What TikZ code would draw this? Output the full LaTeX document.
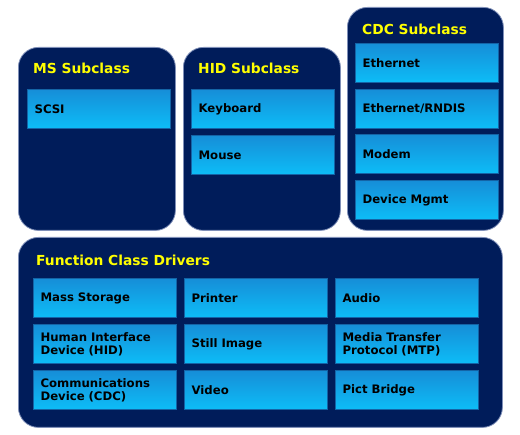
\documentclass[tikz,border=0pt]{standalone}
\usepackage{fontspec}
\setmainfont{DejaVu Sans}
\definecolor{navy}{HTML}{001C5A}
\definecolor{panelrim}{HTML}{7F8FB8}
\definecolor{boxtop}{HTML}{168ED8}
\definecolor{boxbot}{HTML}{0DBDF7}
\definecolor{boxrim}{HTML}{1464A6}
\definecolor{ttl}{HTML}{FFFF00}
\tikzset{
  panel/.style={draw=panelrim, line width=0.8pt, fill=navy, rounded corners=20pt, anchor=north west, inner sep=0pt},
  ttlnode/.style={anchor=west, text=ttl, font=\bfseries\fontsize{13.8}{16}\selectfont, inner sep=0pt},
  boxnode/.style={draw=boxrim, line width=1.2pt, top color=boxtop, bottom color=boxbot, anchor=north west,
     minimum width=143pt, minimum height=39pt, text width=129pt, inner xsep=7pt, inner ysep=0pt, align=left,
     font=\bfseries\fontsize{11.7}{13.5}\selectfont, text=black}
}
\begin{document}
\begin{tikzpicture}[x=1pt,y=-1pt]
\useasboundingbox (0,0) rectangle (520,435);
% panels
\node[panel, minimum width=157pt, minimum height=183pt] (ms) at (18,47) {};
\node[panel, minimum width=157pt, minimum height=183pt] (hid) at (183,47) {};
\node[panel, minimum width=156pt, minimum height=223pt] (cdc) at (347,7) {};
\node[panel, minimum width=484pt, minimum height=190pt] (fcd) at (18,237) {};
% titles
\node[ttlnode] (msT) at (33,68) {MS Subclass};
\node[ttlnode] (hidT) at (198,68) {HID Subclass};
\node[ttlnode] (cdcT) at (362,29) {CDC Subclass};
\node[ttlnode] (fcdT) at (36,260) {Function Class Drivers};
% subclass boxes
\node[boxnode] (scsi) at (27,89) {SCSI};
\node[boxnode] (kbd) at (191,89) {Keyboard};
\node[boxnode] (mouse) at (191,135) {Mouse};
\node[boxnode] (eth) at (355,43) {Ethernet};
\node[boxnode] (rndis) at (355,89) {Ethernet/RNDIS};
\node[boxnode] (modem) at (355,134) {Modem};
\node[boxnode] (mgmt) at (355,180) {Device Mgmt};
% function class boxes
\node[boxnode] (mass) at (33,278) {Mass Storage};
\node[boxnode] (printer) at (184,278) {Printer};
\node[boxnode] (audio) at (335,278) {Audio};
\node[boxnode] (hidd) at (33,324) {Human Interface\\Device (HID)};
\node[boxnode] (still) at (184,324) {Still Image};
\node[boxnode] (mtp) at (335,324) {Media Transfer\\Protocol (MTP)};
\node[boxnode] (cdcd) at (33,370) {Communications\\Device (CDC)};
\node[boxnode] (video) at (184,370) {Video};
\node[boxnode] (pict) at (335,370) {Pict Bridge};
\end{tikzpicture}
\end{document}
